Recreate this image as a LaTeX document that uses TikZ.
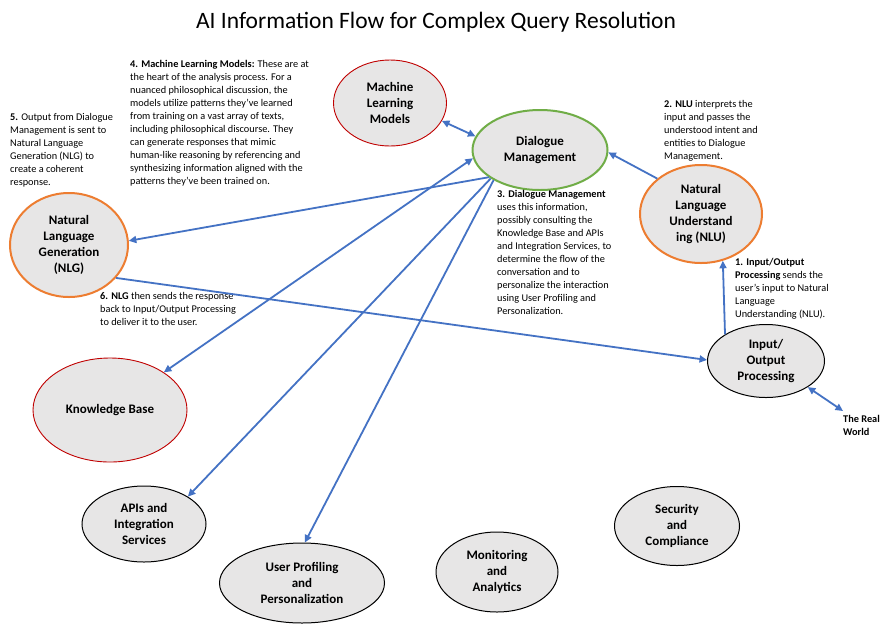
\documentclass[tikz,border=0pt]{standalone}
\usepackage{fontspec}
\setmainfont{Carlito}
\usetikzlibrary{shapes.geometric,arrows.meta}
\definecolor{fillgrey}{HTML}{E7E6E6}
\definecolor{redline}{HTML}{C00000}
\definecolor{orangeline}{HTML}{ED7D31}
\definecolor{greenline}{HTML}{70AD47}
\definecolor{blueline}{HTML}{4472C4}
\tikzset{
  blob/.style={ellipse, fill=fillgrey, inner sep=0pt, align=center,
    font=\fontsize{13}{16}\selectfont\bfseries},
  redblob/.style={blob, draw=redline, line width=0.9pt},
  orangeblob/.style={blob, draw=orangeline, line width=2pt},
  greenblob/.style={blob, draw=greenline, line width=2pt},
  blackblob/.style={blob, draw=black, line width=1pt},
  note/.style={anchor=north west, inner sep=0pt, align=left,
    font=\fontsize{10.3}{13}\selectfont},
  flow/.style={draw=blueline, line width=1.8pt, -{Triangle[length=7.5pt,width=7pt]}},
  bothflow/.style={draw=blueline, line width=1.8pt, {Triangle[length=7.5pt,width=7pt]}-{Triangle[length=7.5pt,width=7pt]}}
}
\begin{document}
\begin{tikzpicture}[x=1pt,y=-1pt]
\useasboundingbox[fill=white] (0,0) rectangle (889,633);

\node[inner sep=0pt, font=\fontsize{23.5}{28}\selectfont] (title) at (436,22) {AI Information Flow for Complex Query Resolution};

% ellipses
\node[redblob, minimum width=113pt, minimum height=86pt] (ml) at (390,103) {Machine\\Learning\\Models};
\node[greenblob, minimum width=135pt, minimum height=80pt] (dm) at (540,150) {Dialogue\\Management};
\node[orangeblob, minimum width=122pt, minimum height=98pt] (nlu) at (701,214) {Natural\\Language\\Understand\\ing (NLU)};
\node[orangeblob, minimum width=118pt, minimum height=104pt] (nlg) at (69,245) {Natural\\Language\\Generation\\(NLG)};
\node[blackblob, minimum width=117pt, minimum height=73pt] (io) at (766,361) {Input/\\Output\\Processing};
\node[redblob, minimum width=154pt, minimum height=104pt] (kb) at (110,410) {Knowledge Base};
\node[blackblob, minimum width=124pt, minimum height=76pt] (api) at (144,524) {APIs and\\Integration\\Services};
\node[blackblob, minimum width=165pt, minimum height=80pt] (up) at (302,583) {User Profiling\\and\\Personalization};
\node[blackblob, minimum width=122pt, minimum height=80pt] (mon) at (497,572) {Monitoring\\and\\Analytics};
\node[blackblob, minimum width=125pt, minimum height=79pt] (sec) at (677,526) {Security\\and\\Compliance};

% notes
\node[note] (n4) at (130,60) {\textbf{4. Machine Learning Models:} These are at\\
the heart of the analysis process. For a\\
nuanced philosophical discussion, the\\
models utilize patterns they've learned\\
from training on a vast array of texts,\\
including philosophical discourse. They\\
can generate responses that mimic\\
human-like reasoning by referencing and\\
synthesizing information aligned with the\\
patterns they've been trained on.};
\node[note] (n5) at (10,113) {\textbf{5.} Output from Dialogue\\
Management is sent to\\
Natural Language\\
Generation (NLG) to\\
create a coherent\\
response.};
\node[note] (n2) at (664,100) {\textbf{2. NLU} interprets the\\
input and passes the\\
understood intent and\\
entities to Dialogue\\
Management.};
\node[note] (n3) at (497,190) {\textbf{3. Dialogue Management}\\
uses this information,\\
possibly consulting the\\
Knowledge Base and APIs\\
and Integration Services, to\\
determine the flow of the\\
conversation and to\\
personalize the interaction\\
using User Profiling and\\
Personalization.};
\node[note] (n1) at (735,258) {\textbf{1. Input/Output}\\
\textbf{Processing} sends the\\
user's input to Natural\\
Language\\
Understanding (NLU).};
\node[note] (n6) at (100,292) {\textbf{6. NLG} then sends the response\\
back to Input/Output Processing\\
to deliver it to the user.};
\node[note, font=\fontsize{10.3}{13}\selectfont\bfseries] (rwtext) at (843,415) {The Real\\World};
\coordinate (rw) at (843,411);

% connectors
\draw[flow] (io.147.5) -- (nlu.-65);
\draw[flow] (nlu.141) -- (dm.-2);
\draw[bothflow] (ml.-19.7) -- (dm.168.7);
\draw[bothflow] (kb.35) -- (dm.-173);
\draw[flow] (dm.208.4) -- (nlg.4.8);
\draw[flow] (dm.210) -- (api.32);
\draw[flow] (dm.213.7) -- (up.86);
\draw[flow] (nlg.-35.8) -- (io.179);
\draw[bothflow] (io.-32.7) -- (rw);
\end{tikzpicture}
\end{document}
